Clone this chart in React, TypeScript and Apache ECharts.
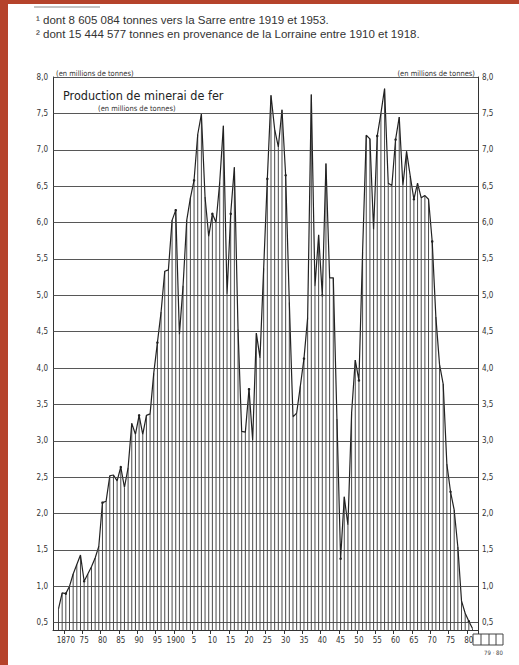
import React, { useEffect, useRef } from "react";
import * as echarts from "echarts";

// Years shown on the category axis (1867 and 1982 are empty margins)
const years: string[] = Array.from({ length: 116 }, (_, i) => String(1867 + i));

// Iron ore production, millions of tonnes, 1868 → 1981
const production: (number | null)[] = [
  null,
  0.69, 0.91, 0.9, 1.0, 1.17, 1.3, 1.43, 1.07, 1.17, 1.27, 1.39, 1.55, // 1868-1879
  2.15, 2.17, 2.52, 2.53, 2.45, 2.64, 2.36, 2.63, 3.24, 3.09, // 1880-1889
  3.35, 3.09, 3.35, 3.37, 3.93, 4.35, 4.77, 5.33, 5.35, 6.03, // 1890-1899
  6.17, 4.46, 5.13, 6.03, 6.34, 6.58, 7.21, 7.49, 6.35, 5.81, // 1900-1909
  6.12, 6.0, 6.55, 7.33, 5.01, 6.12, 6.76, 4.53, 3.13, 3.12, // 1910-1919
  3.71, 3.01, 4.48, 4.14, 5.37, 6.6, 7.75, 7.28, 7.04, 7.55, // 1920-1929
  6.65, 4.9, 3.33, 3.38, 3.75, 4.13, 4.69, 7.76, 5.12, 5.83, // 1930-1939
  5.0, 6.81, 5.24, 5.24, 3.3, 1.38, 2.23, 1.84, 3.38, 4.11, // 1940-1949
  3.83, 5.6, 7.2, 7.15, 5.9, 7.19, 7.5, 7.84, 6.54, 6.51, // 1950-1959
  7.14, 7.45, 6.51, 6.98, 6.64, 6.32, 6.54, 6.34, 6.37, 6.32, // 1960-1969
  5.74, 4.7, 4.05, 3.78, 2.68, 2.3, 2.05, 1.54, 0.8, 0.63, // 1970-1979
  0.52, 0.42, // 1980-1981
  null,
];

// Value-axis tick labels and horizontal rules
const yTicks: number[] = [0.5, 1, 1.5, 2, 2.5, 3, 3.5, 4, 4.5, 5, 5.5, 6, 6.5, 7, 7.5, 8];

const footnote1 = "\u00B9 dont 8 605 084 tonnes vers la Sarre entre 1919 et 1953.";
const footnote2 = "\u00B2 dont 15 444 577 tonnes en provenance de la Lorraine entre 1910 et 1918.";
const titleText = "Production de minerai de fer";
const unitText = "(en millions de tonnes)";

const NARROW = '"Liberation Sans Narrow", "DejaVu Sans Condensed", "Liberation Sans", sans-serif';

const fmt = (v: number) => v.toFixed(1).replace(".", ",");

export default function App() {
  const ref = useRef<HTMLDivElement>(null);

  useEffect(() => {
    document.body.style.margin = "0";
    if (!ref.current) return;
    const chart = echarts.init(ref.current, undefined, { renderer: "svg" });

    const yAxisBase = (position: "left" | "right") => ({
      type: "value" as const,
      position,
      min: 0.4,
      max: 8.0,
      axisLine: { show: true, lineStyle: { color: "#333", width: 1 } },
      axisTick: { show: false },
      splitLine: { show: false },
      axisLabel: {
        customValues: yTicks,
        formatter: (v: number) => fmt(v),
        fontSize: 8,
        color: "#333",
        fontFamily: NARROW,
        margin: position === "left" ? 5 : 4,
      },
    });

    const isLabelYear = (_i: number, v: string) => Number(v) % 5 === 0 && Number(v) <= 1980;

    chart.setOption({
      animation: false,
      backgroundColor: "#ffffff",
      grid: { left: 53, right: 41, top: 77, bottom: 35, containLabel: false },
      xAxis: {
        type: "category",
        data: years,
        boundaryGap: true,
        axisLine: { show: true, lineStyle: { color: "#333", width: 1 } },
        axisTick: { show: true, interval: isLabelYear, length: 4, lineStyle: { color: "#333" } },
        axisLabel: {
          interval: isLabelYear,
          formatter: (v: string) => {
            const y = Number(v);
            if (y === 1870 || y === 1900) return v;
            return String(y % 100);
          },
          fontSize: 8,
          color: "#333",
          fontFamily: NARROW,
          margin: 6,
        },
      },
      yAxis: [yAxisBase("left"), yAxisBase("right")],
      series: [
        {
          type: "bar",
          data: production,
          barWidth: 1,
          itemStyle: { color: "#4a4a4a" },
          silent: true,
          z: 2,
        },
        {
          type: "line",
          data: production,
          symbol: "circle",
          symbolSize: 2.5,
          itemStyle: { color: "#222" },
          lineStyle: { color: "#222", width: 1.2 },
          connectNulls: false,
          silent: true,
          z: 3,
          markLine: {
            silent: true,
            symbol: "none",
            label: { show: false },
            lineStyle: { color: "#444", width: 0.9, type: "solid" },
            data: yTicks.map((v) => ({ yAxis: v })),
          },
        },
      ],
      graphic: [
        { type: "rect", shape: { x: 0, y: 0, width: 519, height: 4 }, style: { fill: "#b5432b" } },
        { type: "rect", shape: { x: 0, y: 0, width: 8, height: 665 }, style: { fill: "#b5432b" } },
        { type: "line", shape: { x1: 34, y1: 7, x2: 100, y2: 7 }, style: { stroke: "#888", lineWidth: 1 } },
        {
          type: "text",
          x: 36,
          y: 20,
          style: { text: footnote1, fontSize: 11.5, fill: "#333", fontFamily: '"Liberation Sans", Arial, sans-serif', textVerticalAlign: "middle" },
        },
        {
          type: "text",
          x: 36,
          y: 34,
          style: { text: footnote2, fontSize: 11.5, fill: "#333", fontFamily: '"Liberation Sans", Arial, sans-serif', textVerticalAlign: "middle" },
        },
        {
          type: "text",
          x: 56,
          y: 73,
          style: { text: unitText, fontSize: 7.5, fill: "#333", fontFamily: NARROW, textVerticalAlign: "middle" },
        },
        {
          type: "text",
          x: 475,
          y: 73,
          style: { text: unitText, fontSize: 7.5, fill: "#333", fontFamily: NARROW, textAlign: "right", textVerticalAlign: "middle" },
        },
        {
          type: "text",
          x: 63,
          y: 95,
          style: { text: titleText, fontSize: 12.5, fill: "#222", fontFamily: NARROW, textVerticalAlign: "middle" },
        },
        {
          type: "text",
          x: 98,
          y: 108,
          style: { text: unitText, fontSize: 7.5, fill: "#333", fontFamily: NARROW, textVerticalAlign: "middle" },
        },
        { type: "rect", shape: { x: 473, y: 634, width: 30, height: 11 }, style: { fill: "none", stroke: "#444", lineWidth: 1 } },
        { type: "line", shape: { x1: 481, y1: 634, x2: 481, y2: 645 }, style: { stroke: "#444", lineWidth: 1 } },
        { type: "line", shape: { x1: 489, y1: 634, x2: 489, y2: 645 }, style: { stroke: "#444", lineWidth: 1 } },
        { type: "line", shape: { x1: 496, y1: 634, x2: 496, y2: 645 }, style: { stroke: "#444", lineWidth: 1 } },
        {
          type: "text",
          x: 503,
          y: 652,
          style: { text: "79 \u00B7 80", fontSize: 6, fill: "#444", fontFamily: NARROW, textAlign: "right", textVerticalAlign: "middle" },
        },
      ],
    });

    return () => chart.dispose();
  }, []);

  return (
    <div
      ref={ref}
      style={{ position: "absolute", left: 0, top: 0, width: 519, height: 665, background: "#fff" }}
    />
  );
}
